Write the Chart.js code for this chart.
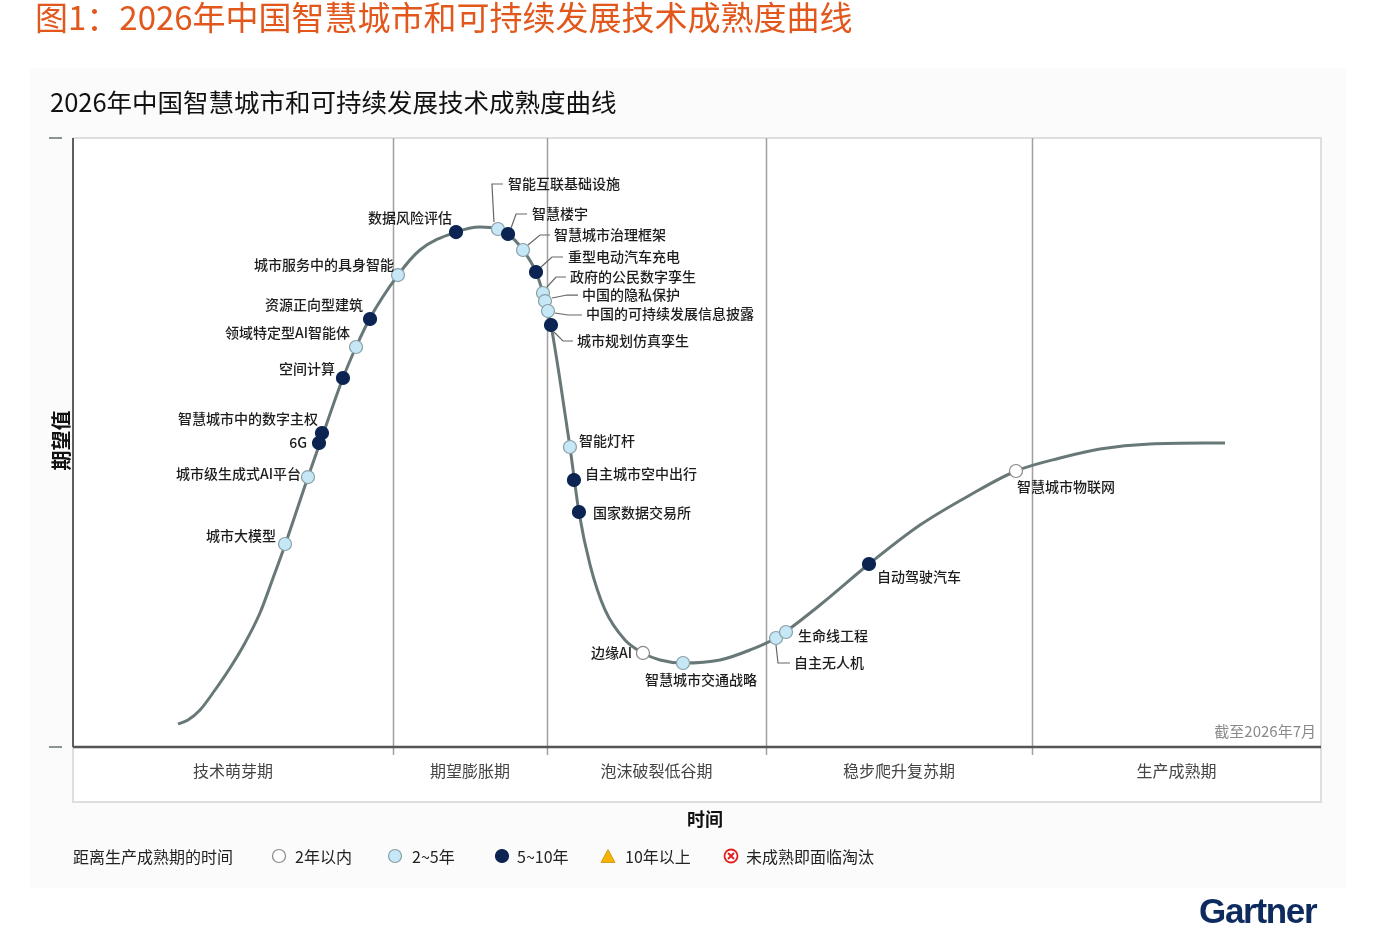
<!DOCTYPE html>
<html>
<head>
<meta charset="utf-8">
<script src="https://cdn.jsdelivr.net/npm/chart.js@4.4.1/dist/chart.umd.min.js"></script>
<style>
  html, body { margin: 0; padding: 0; background: #fff; width: 1377px; height: 931px; overflow: hidden; }
  body { font-family: "Noto Sans CJK SC", "Noto Sans", sans-serif; }
  #wrap { position: relative; width: 1377px; height: 931px; }
  #panel { position: absolute; left: 30px; top: 68px; width: 1316px; height: 820px; background: #fbfbfb; }
  canvas { position: absolute; left: 0; top: 0; }
  .txt { position: absolute; white-space: nowrap; line-height: 1; }
  #fig { left: 35px; top: 0px; font-size: 33px; color: #e2571c; }
  #sub { left: 50px; top: 88px; font-size: 25.5px; color: #111; }
  .lg { top: 848px; font-size: 16px; color: #222; }
  .mk { position: absolute; top: 848px; width: 16px; height: 16px; }
  #gartner { left: 1199px; top: 893px; font-family: "Liberation Sans", Arial, sans-serif; font-weight: bold; font-size: 35px; letter-spacing: -1.3px; color: #0d2b5e; }
  #gartner sup { font-size: 7px; letter-spacing: 0; vertical-align: -22px; margin-left: 1px; }
</style>
</head>
<body>
<div id="wrap">
  <div id="panel"></div>
  <canvas id="myChart" width="1377" height="931"></canvas>
  <div class="txt" id="fig">图1：2026年中国智慧城市和可持续发展技术成熟度曲线</div>
  <div class="txt" id="sub">2026年中国智慧城市和可持续发展技术成熟度曲线</div>

  <div class="txt lg" style="left:73px">距离生产成熟期的时间</div>
  <svg class="mk" style="left:271px" viewBox="0 0 16 16"><circle cx="8" cy="8" r="6.5" fill="#fff" stroke="#888" stroke-width="1.2"/></svg>
  <div class="txt lg" style="left:295px">2年以内</div>
  <svg class="mk" style="left:387px" viewBox="0 0 16 16"><circle cx="8" cy="8" r="6.5" fill="#c6e7f6" stroke="#8aa0a8" stroke-width="1.2"/></svg>
  <div class="txt lg" style="left:412px">2~5年</div>
  <svg class="mk" style="left:494px" viewBox="0 0 16 16"><circle cx="8" cy="8" r="6.5" fill="#0b2452" stroke="#0b2452" stroke-width="1.2"/></svg>
  <div class="txt lg" style="left:517px">5~10年</div>
  <svg class="mk" style="left:600px" viewBox="0 0 16 16"><polygon points="8,1.5 15,14.5 1,14.5" fill="#f6b400" stroke="#c89000" stroke-width="0.8"/></svg>
  <div class="txt lg" style="left:625px">10年以上</div>
  <svg class="mk" style="left:723px" viewBox="0 0 16 16"><circle cx="8" cy="8" r="6.5" fill="#fff" stroke="#e02020" stroke-width="1.8"/><path d="M5 5 L11 11 M11 5 L5 11" stroke="#e02020" stroke-width="2"/></svg>
  <div class="txt lg" style="left:746px">未成熟即面临淘汰</div>

  <div class="txt" id="gartner">Gartner<sup>®</sup></div>
</div>

<script>
// ---- data ----
// hype curve, x = time (0-100), y = expectations (0-100)
const curveX = [8.41, 9.21, 10.18, 11.38, 12.58, 13.78, 14.98, 16.03, 16.99, 18.83, 19.79, 21.63, 22.68, 23.80,
  26.04, 27.80, 30.69, 32.61, 34.05, 34.86, 36.06, 37.10, 37.66, 38.06, 38.30, 39.02, 39.82, 40.54, 41.43, 42.63,
  44.23, 45.67, 47.04, 48.88, 51.84, 54.25, 56.33, 59.86, 63.78, 67.87, 71.88, 75.56, 79.09, 82.29, 86.30, 92.31];
const curveY = [3.78, 4.43, 6.08, 9.36, 12.97, 17.08, 22.00, 27.75, 33.17, 44.33, 49.92, 60.59, 65.68, 70.44,
  77.50, 81.61, 84.56, 85.39, 85.06, 84.24, 81.61, 78.00, 74.55, 71.59, 69.29, 60.26, 49.26, 38.59, 29.89, 22.50,
  17.57, 15.44, 14.29, 13.79, 14.29, 15.93, 17.90, 23.32, 30.05, 36.45, 41.38, 45.32, 47.45, 48.93, 49.75, 49.92];

// technologies on the curve
const techNames = ['城市大模型', '城市级生成式AI平台', '6G', '智慧城市中的数字主权', '空间计算', '领域特定型AI智能体',
  '资源正向型建筑', '城市服务中的具身智能', '数据风险评估', '智能互联基础设施', '智慧楼宇', '智慧城市治理框架',
  '重型电动汽车充电', '政府的公民数字孪生', '中国的隐私保护', '中国的可持续发展信息披露', '城市规划仿真孪生',
  '智能灯杆', '自主城市空中出行', '国家数据交易所', '边缘AI', '智慧城市交通战略', '自主无人机', '生命线工程',
  '自动驾驶汽车', '智慧城市物联网'];
const techX = [16.99, 18.83, 19.71, 19.95, 21.63, 22.68, 23.80, 26.04, 30.69, 34.05, 34.86, 36.06, 37.10, 37.66,
  37.82, 38.06, 38.30, 39.82, 40.14, 40.54, 45.67, 48.88, 56.33, 57.13, 63.78, 75.56];
const techY = [33.33, 44.33, 49.92, 51.56, 60.59, 65.68, 70.28, 77.50, 84.56, 85.06, 84.24, 81.61, 78.00, 74.55,
  73.23, 71.59, 69.29, 49.26, 43.84, 38.59, 15.44, 13.79, 17.90, 18.88, 30.05, 45.32];
// years to plateau: 'a' <2, 'b' 2-5, 'c' 5-10
const techYears = ['b', 'b', 'c', 'c', 'c', 'b', 'c', 'b', 'c', 'b', 'c', 'b', 'c', 'b', 'b', 'b', 'c',
  'b', 'c', 'c', 'a', 'b', 'b', 'b', 'c', 'a'];

// phases
const phaseNames = ['技术萌芽期', '期望膨胀期', '泡沫破裂低谷期', '稳步爬升复苏期', '生产成熟期'];
const phaseEnds = [25.64, 37.98, 55.53, 76.84, 100];

// ---- styles / layout ----
const fillFor = { a: '#ffffff', b: '#c6e7f6', c: '#0b2452' };
const edgeFor = { a: '#888888', b: '#8aa0a8', c: '#0b2452' };

// label placement relative to the marker (pixels), leader = polyline points
const labelPos = {
  '城市大模型': { dx: -9, dy: -8, align: 'right' },
  '城市级生成式AI平台': { dx: -7, dy: -3, align: 'right' },
  '6G': { dx: -12, dy: 0, align: 'right' },
  '智慧城市中的数字主权': { dx: -4, dy: -14, align: 'right' },
  '空间计算': { dx: -8, dy: -9, align: 'right' },
  '领域特定型AI智能体': { dx: -6, dy: -14, align: 'right' },
  '资源正向型建筑': { dx: -7, dy: -14, align: 'right' },
  '城市服务中的具身智能': { dx: -4, dy: -10, align: 'right' },
  '数据风险评估': { dx: -4, dy: -14, align: 'right' },
  '智能互联基础设施': { dx: 10, dy: -45, align: 'left', leader: [[-4, -7], [-6, -45], [5, -45]] },
  '智慧楼宇': { dx: 24, dy: -20, align: 'left', leader: [[3, -6], [8, -20], [19, -20]] },
  '智慧城市治理框架': { dx: 31, dy: -15, align: 'left', leader: [[5, -5], [17, -15], [27, -15]] },
  '重型电动汽车充电': { dx: 32, dy: -15, align: 'left', leader: [[5, -5], [16, -15], [27, -15]] },
  '政府的公民数字孪生': { dx: 27, dy: -16, align: 'left', leader: [[4, -6], [13, -16], [23, -16]] },
  '中国的隐私保护': { dx: 37, dy: -6, align: 'left', leader: [[7, -3], [22, -6], [33, -6]] },
  '中国的可持续发展信息披露': { dx: 38, dy: 3, align: 'left', leader: [[7, 2], [20, 4], [34, 4]] },
  '城市规划仿真孪生': { dx: 26, dy: 16, align: 'left', leader: [[3, 7], [12, 16], [22, 16]] },
  '智能灯杆': { dx: 9, dy: -6, align: 'left' },
  '自主城市空中出行': { dx: 11, dy: -6, align: 'left' },
  '国家数据交易所': { dx: 14, dy: 1, align: 'left' },
  '边缘AI': { dx: -11, dy: 0, align: 'right' },
  '智慧城市交通战略': { dx: -38, dy: 17, align: 'left' },
  '自主无人机': { dx: 18, dy: 25, align: 'left', leader: [[0, 7], [2, 25], [14, 25]] },
  '生命线工程': { dx: 12, dy: 4, align: 'left' },
  '自动驾驶汽车': { dx: 8, dy: 13, align: 'left' },
  '智慧城市物联网': { dx: 1, dy: 16, align: 'left' }
};

const CJK = '"Noto Sans CJK SC", "Noto Sans", sans-serif';

function seg(ctx, x1, y1, x2, y2) {
  ctx.beginPath();
  ctx.moveTo(x1, y1);
  ctx.lineTo(x2, y2);
  ctx.stroke();
}

// frame, phase dividers and phase names go under the curve; labels on top
const hypePlugin = {
  id: 'hype',
  beforeDatasetsDraw(chart) {
    const { ctx, chartArea: a, scales: { x } } = chart;
    const bandBottom = a.bottom + 55;
    ctx.save();
    ctx.fillStyle = '#ffffff';
    ctx.fillRect(a.left, a.top, a.right - a.left, bandBottom - a.top);

    ctx.strokeStyle = '#dedede';
    ctx.lineWidth = 2;
    ctx.beginPath();
    ctx.moveTo(a.left, a.top);
    ctx.lineTo(a.right, a.top);
    ctx.lineTo(a.right, bandBottom);
    ctx.lineTo(a.left, bandBottom);
    ctx.lineTo(a.left, a.bottom);
    ctx.stroke();

    ctx.strokeStyle = '#a0a0a0';
    ctx.lineWidth = 1.5;
    phaseEnds.slice(0, -1).forEach(v => {
      const px = Math.round(x.getPixelForValue(v)) + 0.5;
      seg(ctx, px, a.top, px, a.bottom + 8);
    });

    // axes
    ctx.strokeStyle = '#2a2a2a';
    ctx.lineWidth = 1.5;
    seg(ctx, a.left, a.top, a.left, a.bottom);
    ctx.strokeStyle = '#555';
    ctx.lineWidth = 2.5;
    seg(ctx, a.left, a.bottom, a.right, a.bottom);
    ctx.strokeStyle = '#8a9494';
    ctx.lineWidth = 2;
    seg(ctx, a.left - 24, a.top, a.left - 11, a.top);
    seg(ctx, a.left - 24, a.bottom, a.left - 11, a.bottom);

    // phase names
    ctx.fillStyle = '#444';
    ctx.font = '16px ' + CJK;
    ctx.textAlign = 'center';
    ctx.textBaseline = 'middle';
    let start = 0;
    phaseNames.forEach((n, i) => {
      const cx = (x.getPixelForValue(start) + x.getPixelForValue(phaseEnds[i])) / 2;
      ctx.fillText(n, cx, a.bottom + 24);
      start = phaseEnds[i];
    });

    // axis titles
    ctx.fillStyle = '#111';
    ctx.font = 'bold 18px ' + CJK;
    ctx.fillText('时间', (a.left + a.right) / 2 + 8, bandBottom + 17);
    ctx.save();
    ctx.translate(a.left - 12, (a.top + a.bottom) / 2 - 2);
    ctx.rotate(-Math.PI / 2);
    ctx.font = 'bold 20px ' + CJK;
    ctx.fillText('期望值', 0, 0);
    ctx.restore();

    ctx.fillStyle = '#8a8a8a';
    ctx.font = '15px ' + CJK;
    ctx.textAlign = 'right';
    ctx.fillText('截至2026年7月', a.right - 5, a.bottom - 16);
    ctx.restore();
  },
  afterDatasetsDraw(chart) {
    const { ctx, scales: { x, y } } = chart;
    ctx.save();
    ctx.font = '500 14px ' + CJK;
    ctx.textBaseline = 'middle';
    techNames.forEach((name, i) => {
      const p = labelPos[name];
      const px = x.getPixelForValue(techX[i]);
      const py = y.getPixelForValue(techY[i]);
      if (p.leader) {
        ctx.strokeStyle = '#666';
        ctx.lineWidth = 1.2;
        ctx.beginPath();
        p.leader.forEach(([lx, ly], k) => k ? ctx.lineTo(px + lx, py + ly) : ctx.moveTo(px + lx, py + ly));
        ctx.stroke();
      }
      ctx.fillStyle = '#1c1c1c';
      ctx.textAlign = p.align;
      ctx.fillText(name, px + p.dx, py + p.dy);
    });
    ctx.restore();
  }
};

document.addEventListener('DOMContentLoaded', function () {
  const ctx = document.getElementById('myChart').getContext('2d');
  new Chart(ctx, {
    type: 'scatter',
    data: {
      datasets: [{
        label: 'tech',
        data: techX.map((v, i) => ({ x: v, y: techY[i] })),
        pointRadius: 6.5,
        pointBorderWidth: 1.2,
        pointBackgroundColor: techYears.map(t => fillFor[t]),
        pointBorderColor: techYears.map(t => edgeFor[t]),
        order: 0
      }, {
        label: 'curve',
        data: curveX.map((v, i) => ({ x: v, y: curveY[i] })),
        showLine: true,
        cubicInterpolationMode: 'monotone',
        borderColor: '#687878',
        borderWidth: 3,
        pointRadius: 0,
        order: 1
      }]
    },
    options: {
      responsive: false,
      animation: false,
      layout: { padding: { left: 73, right: 56, top: 138, bottom: 184 } },
      scales: {
        x: { type: 'linear', min: 0, max: 100, display: false },
        y: { type: 'linear', min: 0, max: 100, display: false }
      },
      plugins: { legend: { display: false }, tooltip: { enabled: false }, title: { display: false } }
    },
    plugins: [hypePlugin]
  });
});
</script>
</body>
</html>
